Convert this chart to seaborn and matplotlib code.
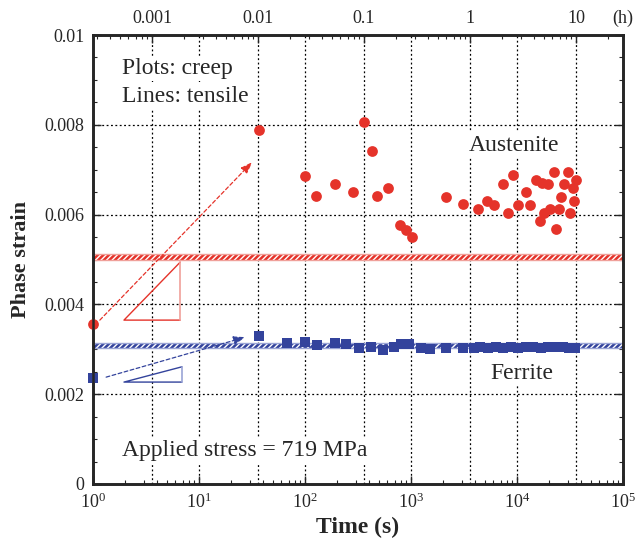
import numpy as np
import pandas as pd
import matplotlib
matplotlib.use("Agg")
import matplotlib.pyplot as plt
import matplotlib.ticker as mticker
import seaborn as sns

# ---------------- data ----------------
aus_time = [1, 37, 99, 128, 190, 281, 357, 425, 483, 601, 780, 889, 1013,
            2123, 3073, 4262, 5180, 6040, 7350, 8180, 9130, 10180, 12110,
            13200, 15070, 16440, 17140, 17910, 19540, 20420, 22290, 23270,
            24840, 25950, 27690, 30200, 31550, 33650, 34440, 35970]
aus_strain = [0.00356, 0.00788, 0.00686, 0.00641, 0.00668, 0.00650, 0.00806,
              0.00742, 0.00641, 0.00659, 0.00577, 0.00566, 0.00550,
              0.00639, 0.00624, 0.00612, 0.00630, 0.00621, 0.00668, 0.00604,
              0.00688, 0.00621, 0.00650, 0.00621, 0.00677, 0.00586, 0.00670,
              0.00604, 0.00668, 0.00612, 0.00695, 0.00568, 0.00612, 0.00639,
              0.00668, 0.00695, 0.00604, 0.00659, 0.00630, 0.00677]

fer_time = [1, 37, 68, 99, 131, 190, 246, 320, 415, 539, 685, 798, 949, 1232,
            1499, 2123, 3073, 3890, 4500, 5300, 6300, 7400, 8800, 10300,
            12200, 14300, 16900, 19800, 23200, 27200, 31200, 35000]
fer_strain = [0.00236, 0.00330, 0.00314, 0.00316, 0.00310, 0.00314, 0.00312,
              0.00303, 0.00305, 0.00298, 0.00305, 0.00312, 0.00312, 0.00303,
              0.00300, 0.00303, 0.00303, 0.00304, 0.00305, 0.00303, 0.00306,
              0.00304, 0.00305, 0.00303, 0.00305, 0.00306, 0.00304, 0.00305,
              0.00306, 0.00305, 0.00304, 0.00303]

aus_tensile = (0.00500, 0.00512)
fer_tensile = (0.00303, 0.00314)

x_ticks = [1, 10, 100, 1000, 10000, 100000]
y_ticks = [0, 0.002, 0.004, 0.006, 0.008, 0.01]
y_ticklabels = ["0", "0.002", "0.004", "0.006", "0.008", "0.01"]
hour_ticks_s = [3.6, 36, 360, 3600, 36000]
hour_labels = ["0.001", "0.01", "0.1", "1", "10"]

RED = "#e5332a"
BLUE = "#33439c"
LRED = "#f0a09a"
LBLUE = "#9aa4d6"

# ---------------- style ----------------
sns.set_style("ticks")
plt.rcParams["font.family"] = ["Liberation Serif", "DejaVu Serif"]
plt.rcParams["mathtext.fontset"] = "custom"
plt.rcParams["mathtext.rm"] = "Liberation Serif"
plt.rcParams["mathtext.it"] = "Liberation Serif:italic"
plt.rcParams["hatch.linewidth"] = 1.0

fig = plt.figure(figsize=(6.37, 5.47), dpi=100)
ax = fig.add_axes([93 / 637, 1 - 484 / 547, (623 - 93) / 637, (484 - 35) / 547])

ax.set_xscale("log")
ax.set_xlim(1, 1e5)
ax.set_ylim(0, 0.01)

# grid lines (dotted)
for xv in x_ticks[1:-1] + hour_ticks_s:
    ax.axvline(xv, color="black", lw=0.9, ls=(0, (1.5, 2)), zorder=0.5)
for yv in y_ticks[1:-1]:
    ax.axhline(yv, color="black", lw=0.9, ls=(0, (1.5, 2)), zorder=0.5)

# tensile bands (hatched)
for (lo, hi), c, lc in [(aus_tensile, RED, LRED), (fer_tensile, BLUE, LBLUE)]:
    ax.axhspan(lo, hi, facecolor=c, edgecolor="white", hatch="//////", lw=0, zorder=1)
    ax.axhline(lo, color=lc, lw=1.0, zorder=1.1)
    ax.axhline(hi, color=lc, lw=1.0, zorder=1.1)

# data points
df_a = pd.DataFrame({"t": aus_time, "e": aus_strain})
df_f = pd.DataFrame({"t": fer_time, "e": fer_strain})
sns.scatterplot(data=df_a, x="t", y="e", ax=ax, color=RED, marker="o", s=60,
                linewidth=0, zorder=3, clip_on=False)
sns.scatterplot(data=df_f, x="t", y="e", ax=ax, color=BLUE, marker="s", s=60,
                linewidth=0, zorder=3, clip_on=False)
ax.set_xlabel("")
ax.set_ylabel("")

# dashed arrows
ax.annotate("", xy=(31.8, 0.00717), xytext=(1.16, 0.00365),
            arrowprops=dict(arrowstyle="-|>,head_length=0.7,head_width=0.25",
                            color=RED, lw=0.9, ls=(0, (3, 2)), shrinkA=0, shrinkB=0),
            zorder=2)
ax.annotate("", xy=(27.3, 0.00327), xytext=(1.33, 0.00238),
            arrowprops=dict(arrowstyle="-|>,head_length=0.7,head_width=0.25",
                            color=BLUE, lw=0.9, ls=(0, (3, 2)), shrinkA=0, shrinkB=0),
            zorder=2)

# slope triangles
ax.plot([6.64, 1.96, 6.64], [0.00494, 0.00365, 0.00365], color=RED, lw=1.0, zorder=2)
ax.plot([6.64, 6.64], [0.00365, 0.00494], color=LRED, lw=1.2, zorder=2)
ax.plot([6.9, 1.96, 6.9], [0.00261, 0.00227, 0.00227], color=BLUE, lw=1.0, zorder=2)
ax.plot([6.9, 6.9], [0.00227, 0.00261], color=LBLUE, lw=1.2, zorder=2)

# texts (white background hides grid lines)
bb = dict(facecolor="white", edgecolor="none", pad=1.5)
ax.text(1.88, 0.00926, "Plots: creep", fontsize=17, va="center", ha="left", bbox=bb, zorder=2.5)
ax.text(1.88, 0.00864, "Lines: tensile", fontsize=17, va="center", ha="left", bbox=bb, zorder=2.5)
ax.text(1.88, 0.000735, "Applied stress = 719 MPa", fontsize=17, va="center", ha="left", bbox=bb, zorder=2.5)
ax.text(9330, 0.00755, "Austenite", fontsize=17, va="center", ha="center", bbox=bb, zorder=2.5)
ax.text(11100, 0.00247, "Ferrite", fontsize=17, va="center", ha="center", bbox=bb, zorder=2.5)

# axes: ticks and labels
ax.set_xticks(x_ticks)
ax.xaxis.set_major_formatter(mticker.LogFormatterMathtext())
ax.xaxis.set_minor_locator(mticker.LogLocator(base=10, subs=np.arange(2, 10)))
ax.xaxis.set_minor_formatter(mticker.NullFormatter())
ax.set_yticks(y_ticks)
ax.set_yticklabels(y_ticklabels)
ax.yaxis.set_minor_locator(mticker.MultipleLocator(0.0005))
ax.tick_params(axis="both", which="major", direction="in", length=6, width=1.0,
               labelsize=13, top=False, right=True, pad=6)
ax.tick_params(axis="both", which="minor", direction="in", length=3, width=0.8,
               top=False, right=True)
for sp in ax.spines.values():
    sp.set_linewidth(1.8)
    sp.set_color("black")

ax.set_xlabel("Time (s)", fontsize=17, fontweight="bold", labelpad=4)
ax.set_ylabel("Phase strain", fontsize=16, fontweight="bold", labelpad=10)

# top axis in hours
ax2 = ax.twiny()
ax2.set_xscale("log")
ax2.set_xlim(ax.get_xlim())
ax2.set_xticks(hour_ticks_s)
ax2.set_xticklabels(hour_labels)
minor_top = [h * m for h in [0.36] + hour_ticks_s for m in range(2, 10)]
minor_top = [v for v in minor_top if 1 < v < 1e5]
ax2.xaxis.set_minor_locator(mticker.FixedLocator(minor_top))
ax2.xaxis.set_minor_formatter(mticker.NullFormatter())
ax2.tick_params(axis="x", which="major", direction="in", length=6, width=1.0,
                labelsize=13, pad=6)
ax2.tick_params(axis="x", which="minor", direction="in", length=3, width=0.8)
for sp in ax2.spines.values():
    sp.set_linewidth(1.8)
fig.text(623 / 637, 1 - 18 / 547, "(h)", fontsize=13, ha="center", va="center")

fig.savefig("out.png", dpi=100)
